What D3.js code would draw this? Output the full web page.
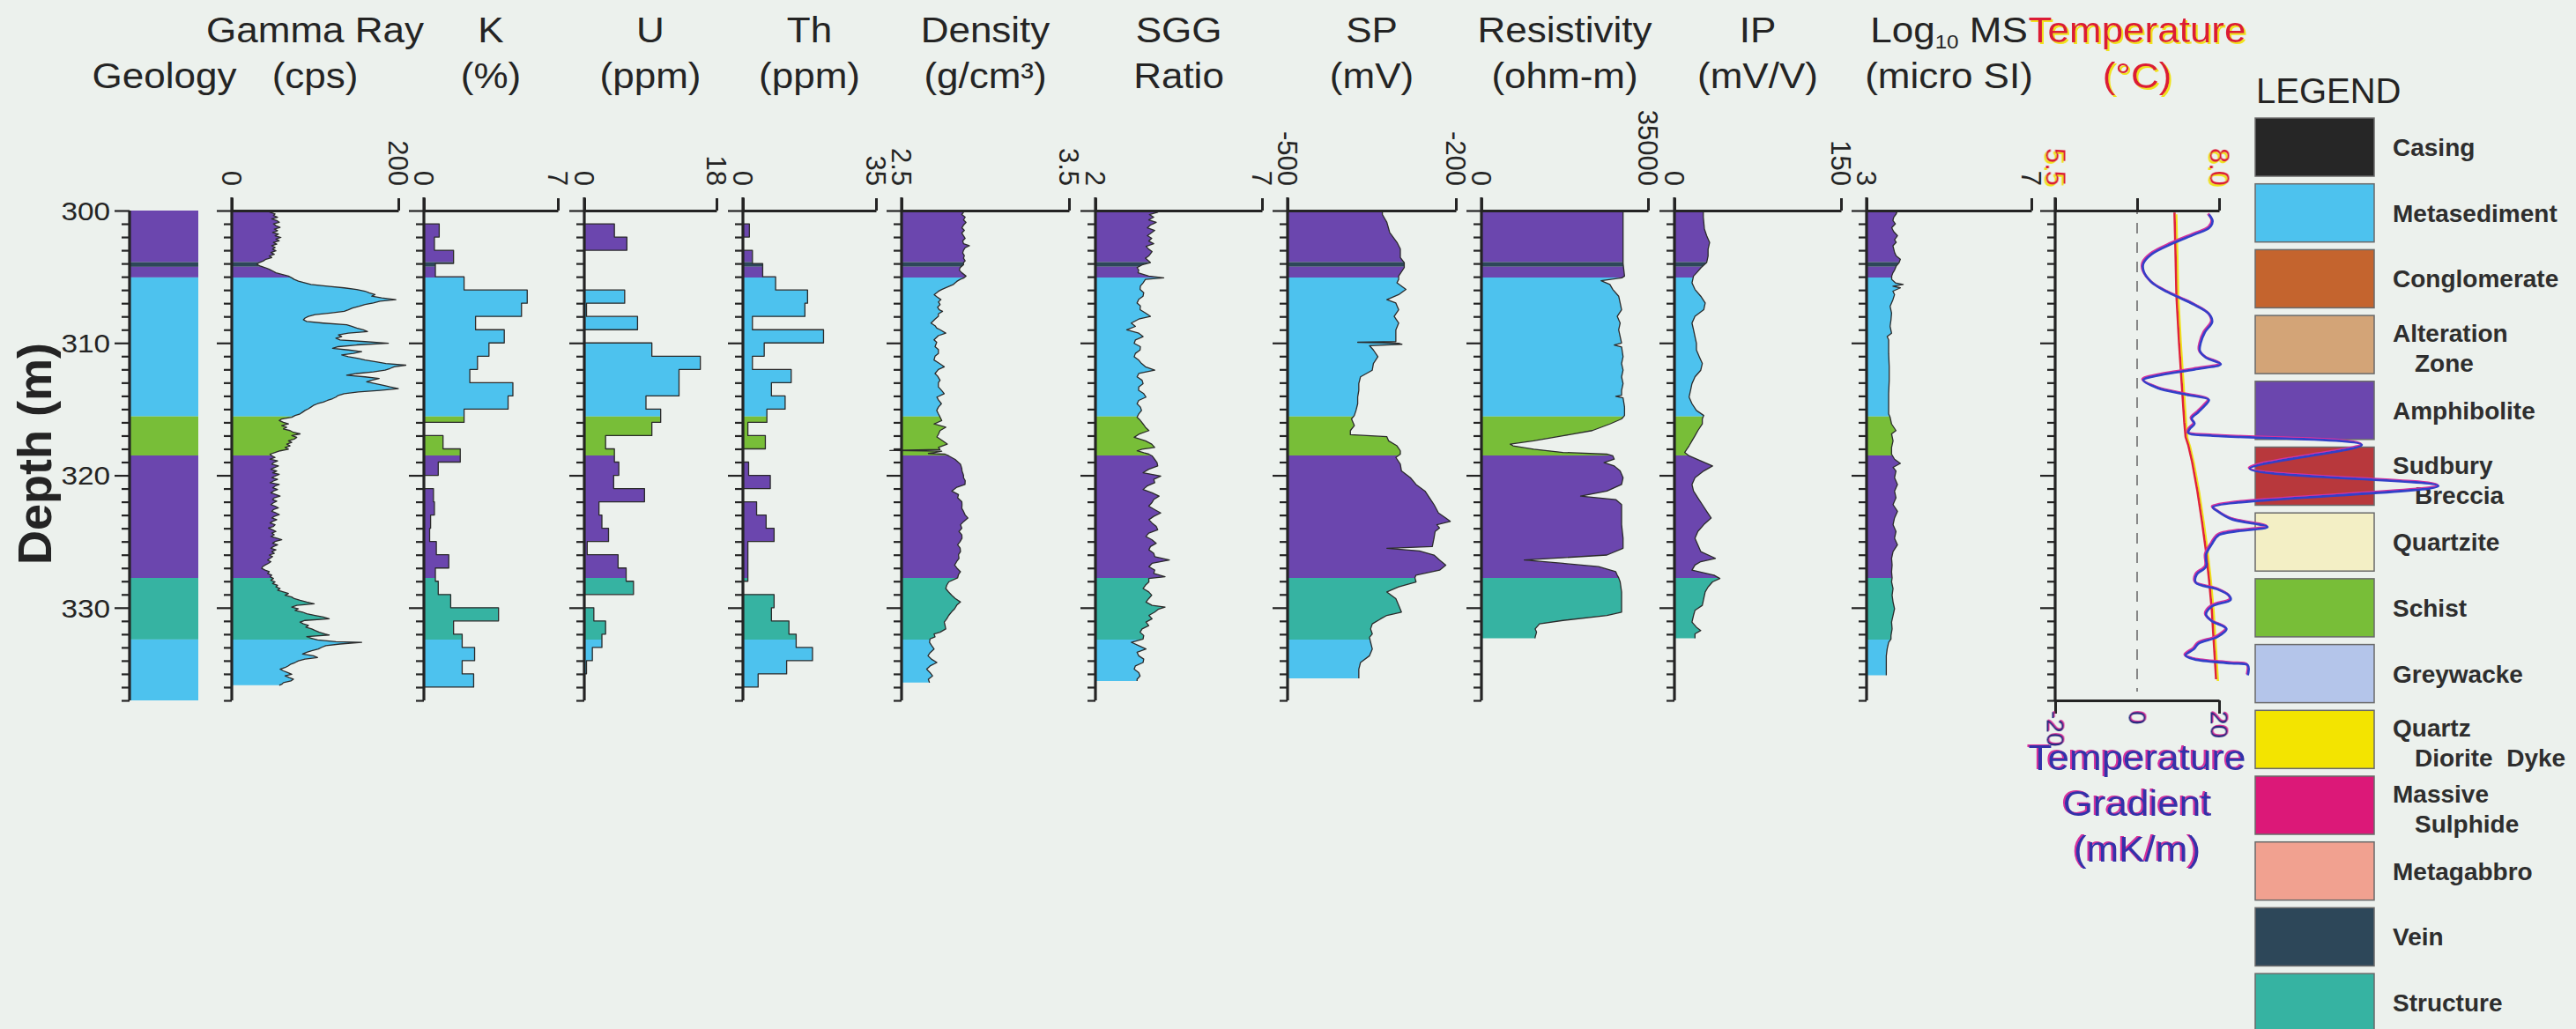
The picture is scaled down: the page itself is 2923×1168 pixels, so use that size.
<!DOCTYPE html>
<html><head><meta charset="utf-8">
<script src="https://cdn.jsdelivr.net/npm/d3@7"></script>
<style>
html,body{margin:0;padding:0;background:#ecf1ed;}
svg{display:block;font-family:"Liberation Sans",Arial,Helvetica,sans-serif;}
</style></head><body>
<svg id="chart" width="2923" height="1168"></svg>
<script>
// ================= DATA =================
const legendNames = ["Casing","Metasediment","Conglomerate","Alteration Zone","Amphibolite","Sudbury Breccia","Quartzite","Schist","Greywacke","Quartz Diorite Dyke","Massive Sulphide","Metagabbro","Vein","Structure"];
const legendLines = [["Casing"],["Metasediment"],["Conglomerate"],["Alteration","Zone"],["Amphibolite"],["Sudbury","Breccia"],["Quartzite"],["Schist"],["Greywacke"],["Quartz","Diorite  Dyke"],["Massive","Sulphide"],["Metagabbro"],["Vein"],["Structure"]];
const legendColors = ["#262626","#4dc2ee","#c4642e","#d3a477","#6b46ae","#b8383c","#f3efc5","#78be38","#b4c5ea","#f3e400","#dc1878","#f1a190","#2d4759","#36b3a2"];

// geology intervals [top, bottom, unit]
const geologyIntervals = [[300,303.9,"Amphibolite"],[303.9,304.25,"Vein"],[304.25,305.05,"Amphibolite"],[305.05,315.55,"Metasediment"],[315.55,318.5,"Schist"],[318.5,327.75,"Amphibolite"],[327.75,332.4,"Structure"],[332.4,337,"Metasediment"]];

const depthTicks = [300,301,302,303,304,305,306,307,308,309,310,311,312,313,314,315,316,317,318,319,320,321,322,323,324,325,326,327,328,329,330,331,332,333,334,335,336,337];

const trackTitles = ["Gamma Ray","K","U","Th","Density","SGG","SP","Resistivity","IP","Log10 MS","Temperature"];
const trackUnits = ["(cps)","(%)","(ppm)","(ppm)","(g/cm³)","Ratio","(mV)","(ohm-m)","(mV/V)","(micro SI)","(°C)"];
const trackDomains = [[0,200],[0,7],[0,18],[0,35],[2.5,3.5],[2,7],[-500,-200],[0,35000],[0,150],[3,7],[5.5,8.0]];
const trackTickLabels = [["0","200"],["0","7"],["0","18"],["0","35"],["2.5","3.5"],["2","7"],["-500","-200"],["0","35000"],["0","150"],["3","7"],["5.5","8.0"]];
const gradientDomain = [-20,20];
const gradientTickLabels = ["-20","0","20"];

// Gamma ray (cps) [depth, value]
const gammaRay = [[300.0,44],[300.13,46],[300.25,52],[300.38,50],[300.5,55],[300.63,48],[300.75,54],[300.89,57],[301.0,50],[301.14,53],[301.27,58],[301.4,51],[301.52,55],[301.65,49],[301.78,56],[301.9,52],[302.03,59],[302.16,53],[302.28,57],[302.41,50],[302.54,54],[302.66,48],[302.79,52],[302.92,49],[303.04,53],[303.17,47],[303.3,51],[303.43,45],[303.55,48],[303.68,41],[303.8,38],[303.93,33],[304.06,30],[304.18,34],[304.31,40],[304.43,45],[304.56,49],[304.7,53],[304.82,60],[304.95,68],[305.08,72],[305.2,75],[305.33,80],[305.46,88],[305.58,95],[305.71,115],[305.84,135],[305.96,150],[306.09,160],[306.22,165],[306.35,172],[306.47,168],[306.6,180],[306.73,197],[306.85,178],[306.98,170],[307.1,160],[307.23,153],[307.36,145],[307.49,140],[307.61,135],[307.74,118],[307.86,100],[307.99,92],[308.12,88],[308.25,86],[308.38,90],[308.5,110],[308.63,138],[308.75,144],[308.88,150],[309.01,158],[309.14,163],[309.26,140],[309.39,128],[309.52,132],[309.64,125],[309.77,130],[309.9,160],[310.03,188],[310.15,150],[310.28,128],[310.41,121],[310.53,140],[310.66,156],[310.79,146],[310.91,132],[311.04,140],[311.17,152],[311.29,160],[311.42,173],[311.55,185],[311.68,209],[311.8,195],[311.93,190],[312.06,184],[312.18,170],[312.31,150],[312.44,138],[312.56,160],[312.69,177],[312.82,168],[312.94,162],[313.07,172],[313.2,182],[313.32,190],[313.45,200],[313.58,178],[313.7,152],[313.83,135],[313.96,128],[314.09,125],[314.21,121],[314.34,115],[314.47,110],[314.59,103],[314.72,98],[314.85,95],[314.97,92],[315.1,88],[315.23,85],[315.36,82],[315.48,76],[315.61,72],[315.74,60],[315.86,57],[315.99,62],[316.12,68],[316.24,60],[316.37,66],[316.5,62],[316.62,70],[316.75,74],[316.87,82],[317.0,72],[317.13,78],[317.26,75],[317.39,68],[317.51,72],[317.64,66],[317.77,70],[317.89,64],[318.02,68],[318.15,58],[318.27,52],[318.4,46],[318.53,48],[318.65,52],[318.78,46],[318.91,55],[319.04,50],[319.16,48],[319.29,56],[319.42,51],[319.54,47],[319.67,54],[319.8,49],[319.92,57],[320.05,52],[320.18,48],[320.3,55],[320.43,50],[320.56,46],[320.69,57],[320.81,52],[320.94,49],[321.07,55],[321.19,50],[321.32,47],[321.45,53],[321.57,58],[321.7,51],[321.83,49],[321.95,54],[322.08,50],[322.21,47],[322.33,52],[322.46,56],[322.59,50],[322.72,48],[322.84,53],[322.97,57],[323.1,51],[323.22,48],[323.35,54],[323.48,49],[323.6,46],[323.73,52],[323.86,50],[323.98,44],[324.11,49],[324.24,53],[324.36,48],[324.49,51],[324.62,47],[324.75,54],[324.87,60],[325.0,52],[325.13,49],[325.25,55],[325.38,50],[325.51,47],[325.63,53],[325.76,48],[325.89,51],[326.02,45],[326.14,49],[326.27,46],[326.4,43],[326.52,47],[326.65,44],[326.78,40],[326.9,37],[327.03,36],[327.16,40],[327.28,45],[327.41,43],[327.54,48],[327.66,46],[327.79,50],[327.92,47],[328.05,52],[328.17,49],[328.3,55],[328.43,53],[328.55,58],[328.68,55],[328.81,62],[328.93,68],[329.06,64],[329.19,72],[329.31,75],[329.44,82],[329.57,90],[329.7,99],[329.82,78],[329.95,72],[330.08,80],[330.2,76],[330.33,85],[330.46,90],[330.58,100],[330.71,110],[330.84,117],[330.96,88],[331.09,82],[331.22,86],[331.34,92],[331.47,89],[331.6,96],[331.72,100],[331.85,105],[331.98,112],[332.06,117],[332.19,90],[332.31,96],[332.44,103],[332.56,125],[332.61,156],[332.74,130],[332.87,113],[332.99,108],[333.12,104],[333.25,96],[333.37,90],[333.5,85],[333.63,98],[333.76,103],[333.88,88],[334.01,80],[334.14,76],[334.26,71],[334.39,68],[334.52,64],[334.64,58],[334.77,62],[334.9,67],[335.03,72],[335.15,64],[335.28,69],[335.4,74],[335.53,71],[335.66,62],[335.78,60],[335.86,57]];

// K (%), U (ppm), Th (ppm): 1 m bins [top depth, value]
const potassium = [[301,0.8],[302,0.55],[303,1.55],[304,0.6],[305,2.1],[306,5.4],[307,5.1],[308,2.7],[309,4.2],[310,3.4],[311,2.8],[312,2.4],[313,4.65],[314,4.4],[315,2.1],[316,0],[317,1.0],[318,1.9],[319,0.75],[320,0],[321,0.5],[322,0.55],[323,0.35],[324,0.3],[325,0.65],[326,1.3],[327,0.6],[328,0.75],[329,1.4],[330,3.9],[331,1.55],[332,2.0],[333,2.65],[334,2.0],[335,2.6]];
const uranium = [[301,4.1],[302,5.8],[303,0],[304,0],[305,0],[306,5.5],[307,0.3],[308,7.25],[309,0],[310,9.2],[311,15.8],[312,12.9],[313,12.9],[314,8.4],[315,10.4],[316,9.2],[317,2.9],[318,4.1],[319,4.7],[320,4.0],[321,8.2],[322,2.0],[323,2.4],[324,3.3],[325,0.4],[326,4.6],[327,5.7],[328,6.7],[329,0],[330,1.3],[331,2.9],[332,2.4],[333,1.1],[334,0.3]];
const thorium = [[301,1.7],[302,0],[303,2.5],[304,5.2],[305,8.6],[306,17.0],[307,16.3],[308,2.5],[309,21.2],[310,5.6],[311,2.5],[312,12.7],[313,7.5],[314,11.1],[315,6.3],[316,1.3],[317,5.9],[318,0],[319,1.5],[320,7.2],[321,0],[322,3.6],[323,6.1],[324,8.2],[325,1.3],[326,1.3],[327,1.3],[328,0],[329,8.2],[330,7.5],[331,12.1],[332,14.0],[333,18.3],[334,11.5],[335,4.0]];

// Density (g/cm3)
const density = [[300.0,2.86],[300.13,2.87],[300.3,2.86],[300.5,2.88],[300.7,2.87],[300.9,2.885],[301.1,2.87],[301.3,2.86],[301.5,2.875],[301.7,2.86],[301.9,2.87],[302.1,2.88],[302.3,2.865],[302.5,2.87],[302.66,2.905],[302.8,2.88],[303.0,2.87],[303.2,2.865],[303.4,2.875],[303.6,2.87],[303.8,2.88],[303.93,2.87],[304.1,2.87],[304.3,2.85],[304.5,2.845],[304.7,2.86],[304.95,2.885],[305.1,2.87],[305.2,2.85],[305.35,2.83],[305.58,2.81],[305.8,2.77],[305.96,2.74],[306.1,2.72],[306.35,2.695],[306.5,2.71],[306.73,2.735],[306.9,2.72],[307.1,2.73],[307.3,2.715],[307.5,2.725],[307.61,2.745],[307.8,2.72],[307.99,2.72],[308.2,2.70],[308.5,2.676],[308.7,2.70],[308.88,2.71],[309.0,2.73],[309.26,2.764],[309.45,2.72],[309.77,2.694],[309.95,2.71],[310.28,2.70],[310.5,2.72],[310.79,2.72],[311.0,2.70],[311.29,2.694],[311.5,2.72],[311.8,2.755],[312.0,2.72],[312.31,2.70],[312.5,2.715],[312.82,2.73],[313.0,2.72],[313.32,2.72],[313.6,2.74],[313.83,2.755],[314.09,2.711],[314.3,2.72],[314.59,2.738],[314.85,2.72],[315.1,2.71],[315.36,2.72],[315.6,2.73],[315.86,2.74],[316.12,2.694],[316.37,2.764],[316.62,2.73],[316.9,2.72],[317.1,2.711],[317.39,2.745],[317.64,2.773],[317.89,2.72],[318.05,2.73],[318.12,2.43],[318.18,2.74],[318.27,2.70],[318.35,2.66],[318.4,2.76],[318.53,2.782],[318.8,2.82],[319.16,2.852],[319.5,2.86],[319.67,2.861],[320.0,2.87],[320.18,2.87],[320.4,2.88],[320.69,2.879],[320.9,2.83],[321.19,2.80],[321.45,2.84],[321.7,2.835],[322.0,2.86],[322.21,2.861],[322.5,2.86],[322.72,2.87],[323.0,2.88],[323.22,2.896],[323.5,2.87],[323.73,2.852],[324.0,2.86],[324.24,2.843],[324.5,2.86],[324.75,2.861],[325.0,2.85],[325.25,2.835],[325.5,2.85],[325.76,2.852],[326.0,2.84],[326.27,2.843],[326.5,2.83],[326.78,2.817],[327.0,2.83],[327.28,2.852],[327.5,2.84],[327.74,2.835],[328.05,2.782],[328.3,2.77],[328.55,2.764],[328.8,2.78],[329.06,2.80],[329.3,2.82],[329.57,2.852],[329.8,2.83],[330.08,2.817],[330.3,2.80],[330.58,2.782],[330.84,2.77],[331.09,2.755],[331.35,2.76],[331.6,2.764],[331.85,2.73],[331.98,2.694],[332.2,2.70],[332.36,2.67],[332.61,2.667],[332.87,2.68],[333.12,2.694],[333.4,2.67],[333.63,2.658],[333.9,2.68],[334.14,2.711],[334.4,2.67],[334.64,2.65],[334.9,2.67],[335.15,2.685],[335.4,2.66],[335.66,2.667]];

// SGG ratio
const sggRatio = [[300.0,3.85],[300.13,3.87],[300.3,3.62],[300.5,3.75],[300.7,3.6],[300.89,3.825],[301.1,3.65],[301.3,3.56],[301.5,3.78],[301.65,3.7],[301.9,3.56],[302.1,3.69],[302.3,3.6],[302.5,3.75],[302.7,3.52],[302.92,3.6],[303.1,3.7],[303.43,3.6],[303.6,3.5],[303.93,3.65],[304.1,3.4],[304.31,3.25],[304.5,3.3],[304.7,3.28],[304.95,3.6],[305.08,4.05],[305.2,3.5],[305.46,3.43],[305.7,3.35],[305.96,3.34],[306.2,3.45],[306.47,3.43],[306.7,3.3],[306.98,3.25],[307.2,3.35],[307.49,3.34],[307.74,3.5],[307.99,3.65],[308.2,3.3],[308.5,3.076],[308.75,3.2],[309.01,2.94],[309.26,3.3],[309.52,3.43],[309.77,3.2],[310.03,3.164],[310.28,3.35],[310.53,3.34],[310.79,3.2],[311.04,3.164],[311.3,3.3],[311.55,3.384],[311.8,3.5],[312.06,3.78],[312.31,3.3],[312.56,3.25],[312.82,3.4],[313.07,3.43],[313.32,3.3],[313.58,3.296],[313.83,3.45],[314.09,3.517],[314.34,3.3],[314.59,3.25],[314.85,3.35],[315.1,3.384],[315.36,3.3],[315.61,3.25],[315.86,3.35],[316.12,3.43],[316.37,3.5],[316.62,3.605],[316.9,3.3],[317.13,3.164],[317.39,3.5],[317.64,3.69],[317.89,3.78],[318.02,3.4],[318.15,3.25],[318.3,3.45],[318.4,3.605],[318.53,3.7],[318.8,3.78],[319.04,3.85],[319.29,3.87],[319.54,3.6],[319.8,3.43],[320.05,3.96],[320.3,3.75],[320.56,3.78],[320.81,3.55],[321.07,3.43],[321.32,3.7],[321.57,3.91],[321.83,3.75],[322.08,3.69],[322.33,3.6],[322.59,3.78],[322.84,3.96],[323.1,3.75],[323.35,3.605],[323.6,3.7],[323.86,3.825],[324.11,3.87],[324.36,3.6],[324.62,3.517],[324.87,3.7],[325.13,3.825],[325.38,3.65],[325.63,3.605],[325.89,3.75],[326.14,3.78],[326.4,4.22],[326.65,3.7],[326.9,3.605],[327.16,3.78],[327.41,3.75],[327.66,4.09],[327.79,3.6],[328.05,3.605],[328.3,3.5],[328.55,3.43],[328.81,3.6],[329.06,3.69],[329.31,3.6],[329.57,3.517],[329.82,3.7],[329.95,4.09],[330.1,3.9],[330.33,3.78],[330.58,3.605],[330.84,3.7],[331.09,3.517],[331.35,3.6],[331.6,3.4],[331.85,3.34],[332.1,3.45],[332.36,3.43],[332.61,3.076],[332.87,3.3],[333.12,3.517],[333.37,3.25],[333.63,3.3],[333.88,3.45],[334.14,3.43],[334.39,3.2],[334.64,3.164],[334.9,3.3],[335.15,3.34],[335.4,3.25],[335.53,3.25]];

// SP (mV)
const spontaneousPotential = [[300.0,-331],[300.3,-331],[300.89,-323],[301.65,-318],[302.4,-305],[302.9,-299],[303.55,-299],[303.93,-292],[304.31,-292],[304.95,-302],[305.2,-302],[305.46,-305],[305.96,-289],[306.35,-302],[306.73,-323],[306.98,-307],[307.49,-302],[307.99,-310],[308.5,-302],[309.01,-307],[309.52,-307],[309.9,-307],[309.95,-375],[310.03,-302],[310.1,-296],[310.2,-354],[310.53,-347],[311.04,-339],[311.55,-347],[312.06,-349],[312.56,-370],[313.07,-373],[313.58,-373],[314.09,-375],[314.59,-375],[315.1,-378],[315.48,-381],[315.74,-386],[316.24,-381],[316.62,-388],[316.93,-388],[317.08,-323],[317.39,-320],[317.77,-305],[318.15,-299],[318.4,-299],[318.65,-307],[319.16,-299],[319.67,-297],[320.18,-281],[320.69,-271],[321.19,-255],[321.7,-247],[322.21,-239],[322.84,-231],[323.22,-218],[323.48,-210],[323.73,-234],[323.98,-229],[324.24,-237],[324.75,-239],[325.38,-242],[325.51,-323],[325.71,-265],[326.02,-239],[326.4,-229],[326.78,-218],[327.16,-229],[327.54,-271],[327.74,-273],[328.05,-271],[328.43,-302],[328.81,-323],[329.31,-307],[329.82,-302],[330.33,-297],[330.58,-323],[330.84,-334],[331.22,-349],[331.6,-352],[331.98,-349],[332.23,-354],[332.61,-352],[333.12,-349],[333.63,-354],[334.14,-370],[334.64,-373],[335.15,-373],[335.33,-373]];

// Resistivity (ohm-m)
const resistivity = [[300.0,29760],[302.0,29760],[304.0,29760],[304.95,30070],[305.08,29500],[305.3,25140],[305.58,26990],[305.96,27610],[306.47,28840],[306.98,29150],[307.49,29450],[307.99,28530],[308.5,29150],[309.01,28840],[309.52,29150],[310.0,29450],[310.15,27910],[310.3,29450],[311.04,29760],[311.55,29450],[312.06,29760],[312.56,29450],[313.07,29760],[313.58,29450],[313.95,29450],[314.04,28220],[314.15,29760],[314.85,30070],[315.48,30070],[315.74,29450],[316.12,26990],[316.62,23290],[317.01,17130],[317.39,10970],[317.64,6040],[317.77,6650],[318.02,10970],[318.27,17130],[318.4,26370],[318.53,27610],[318.78,27910],[319.04,25760],[319.29,27910],[319.67,29150],[320.18,29760],[320.69,29450],[321.19,26370],[321.57,20830],[321.83,28220],[322.21,29450],[322.72,29450],[323.73,29450],[324.75,29760],[325.51,29760],[326.02,26370],[326.4,9000],[326.65,17130],[326.9,24600],[327.28,28220],[327.54,28530],[327.74,28840],[328.05,29150],[328.81,29450],[329.57,29450],[330.33,29450],[330.58,26370],[330.96,17130],[331.22,12200],[331.6,11280],[331.85,11580],[332.23,11280],[332.31,11280]];

// IP (mV/V)
const inducedPolarization = [[300.0,26],[300.5,26],[301.4,27],[301.9,29],[302.41,31.7],[302.92,30.3],[303.43,30.3],[303.93,29],[304.31,24],[304.7,20],[304.95,17.2],[305.46,15.8],[305.96,18.5],[306.47,23.7],[306.98,27.7],[307.49,26.4],[307.99,18.5],[308.5,15.8],[309.01,17.2],[309.52,18.5],[310.03,19.8],[310.53,19.8],[311.04,22.4],[311.55,25.1],[312.06,23.7],[312.56,18.5],[313.07,15.8],[313.58,14.5],[314.09,13.2],[314.59,15.8],[315.1,19.8],[315.48,26.4],[315.74,25.1],[316.12,25.1],[316.62,21.1],[317.01,18.5],[317.39,15.8],[317.77,13.2],[318.27,9.2],[318.53,13.2],[318.91,23.7],[319.29,34.3],[319.67,26.4],[320.18,18.5],[320.69,15.8],[321.19,17.2],[321.7,21.1],[322.21,25.1],[322.72,29],[323.22,33],[323.73,26.4],[324.24,21.1],[324.75,18.5],[325.25,21.1],[325.76,23.7],[326.27,36.9],[326.52,23.7],[326.78,18.5],[327.16,15.8],[327.54,35.6],[327.79,40.9],[328.05,34.3],[328.43,30.3],[328.81,27.7],[329.31,26.4],[329.82,25.1],[330.2,18.5],[330.58,17.2],[331.09,15.8],[331.47,19.8],[331.72,23.7],[331.98,18.5],[332.31,18.5]];

// Log10 magnetic susceptibility (micro SI)
const magSusceptibility = [[300.0,3.75],[300.25,3.72],[300.5,3.66],[300.75,3.64],[301.0,3.70],[301.3,3.61],[301.6,3.66],[301.9,3.75],[302.2,3.68],[302.4,3.72],[302.66,3.64],[302.9,3.66],[303.17,3.68],[303.43,3.72],[303.68,3.82],[303.93,3.79],[304.2,3.72],[304.5,3.68],[304.7,3.64],[304.95,3.61],[305.2,3.61],[305.46,3.70],[305.58,3.89],[305.72,3.64],[305.84,3.82],[306.09,3.64],[306.35,3.68],[306.73,3.64],[307.23,3.571],[307.74,3.607],[308.25,3.593],[308.75,3.571],[309.26,3.607],[309.52,3.50],[309.77,3.536],[310.28,3.536],[310.79,3.536],[311.8,3.55],[312.82,3.55],[313.83,3.536],[314.85,3.536],[315.36,3.536],[315.61,3.571],[316.12,3.607],[316.62,3.714],[316.87,3.607],[317.39,3.643],[317.89,3.607],[318.4,3.607],[318.78,3.679],[319.1,3.82],[319.4,3.643],[319.67,3.714],[320.18,3.679],[320.69,3.75],[321.19,3.679],[321.7,3.714],[322.21,3.643],[322.72,3.75],[323.22,3.679],[323.73,3.643],[324.24,3.714],[324.75,3.679],[325.25,3.75],[325.76,3.643],[326.27,3.607],[326.78,3.62],[327.28,3.607],[327.74,3.62],[328.05,3.607],[328.55,3.643],[329.06,3.62],[329.57,3.643],[330.08,3.679],[330.58,3.643],[331.09,3.607],[331.6,3.62],[332.1,3.593],[332.36,3.593],[332.61,3.536],[333.12,3.5],[333.63,3.479],[334.14,3.479],[334.64,3.479],[335.1,3.479]];

// Temperature (deg C)
const temperature = [[300.15,7.32],[303,7.335],[306.4,7.35],[310,7.39],[313,7.43],[316,7.47],[317.1,7.49],[317.7,7.53],[319,7.59],[321.2,7.67],[323.5,7.74],[325.7,7.80],[328,7.85],[330.2,7.89],[333,7.925],[335.4,7.955]];
// Temperature gradient (mK/m)
const temperatureGradient = [[300.3,17.5],[300.8,18.4],[301.3,17.6],[301.8,14],[302.5,8.5],[303.3,3.5],[304.0,1.5],[304.6,1.6],[305.4,3.5],[306.0,6.5],[306.6,10.5],[307.2,14.5],[307.8,17.5],[308.4,18.3],[309.2,16.5],[310.0,15.5],[310.6,15.3],[311.1,16.8],[311.6,20.4],[312.0,14],[312.4,6],[312.8,1.5],[313.4,5],[313.9,12],[314.3,17.5],[314.7,16.6],[315.2,15],[315.7,13.3],[316.1,14],[316.5,12.8],[316.8,12.5],[317.0,18],[317.7,54.8],[319.5,27.5],[320.8,73.5],[322.4,18.5],[322.7,19.6],[323.3,23],[323.9,31.8],[324.5,20],[325.2,18.2],[326.0,16.8],[326.9,16.8],[327.5,14.5],[328.1,14.3],[328.6,19.6],[329.1,22.5],[329.4,22.8],[329.9,18.2],[330.5,16.8],[331.0,18.2],[331.6,21.8],[332.2,19.6],[332.7,15],[333.1,13.9],[333.6,11.8],[333.9,14],[334.2,23],[334.35,27],[335.1,27]];

// ================= LAYOUT =================
const W = 2923, H = 1168;
const trackLeft  = [263,481,663,843,1023,1243,1461,1681,1900,2118,2332];
const trackRight = [452,633,813,994,1213,1432,1652,1870,2089,2305,2518];
const geoX0 = 148, geoX1 = 225, depthAxisX = 147;
const INK = "#242424";

const svg = d3.select("#chart");
svg.append("rect").attr("width",W).attr("height",H).attr("fill","#ecf1ed");
const defs = svg.append("defs");

function fringe(id, color, dx, dy){
  const f = defs.append("filter").attr("id",id).attr("filterUnits","userSpaceOnUse")
    .attr("x",-4000).attr("y",-4000).attr("width",12000).attr("height",12000);
  f.append("feOffset").attr("in","SourceAlpha").attr("dx",dx).attr("dy",dy).attr("result","o");
  f.append("feFlood").attr("flood-color",color).attr("result","c");
  f.append("feComposite").attr("in","c").attr("in2","o").attr("operator","in").attr("result","s");
  const m = f.append("feMerge");
  m.append("feMergeNode").attr("in","s");
  m.append("feMergeNode").attr("in","SourceGraphic");
}
fringe("fy","#f0e21a",2,2);
fringe("fm","#d8309a",-1.5,-1.5);

const y = d3.scaleLinear().domain([300,337]).range([239,795]);
const colorOf = d3.scaleOrdinal().domain(legendNames).range(legendColors);

geologyIntervals.forEach((g,i)=>{
  defs.append("clipPath").attr("id","geo"+i).append("rect")
    .attr("x",0).attr("width",W).attr("y",y(g[0])).attr("height",y(g[1])-y(g[0]));
});

// ---------- geology column ----------
svg.append("g").selectAll("rect").data(geologyIntervals).join("rect")
  .attr("x",geoX0).attr("width",geoX1-geoX0)
  .attr("y",d=>y(d[0])).attr("height",d=>y(d[1])-y(d[0]))
  .attr("fill",d=>colorOf(d[2]));

// ---------- fills ----------
function drawFilled(data, xs, base){
  const area = d3.area().y(d=>y(d[0])).x0(xs(base)).x1(d=>xs(d[1]));
  const g = svg.append("g");
  geologyIntervals.forEach((iv,i)=>{
    g.append("path").datum(data).attr("clip-path",`url(#geo${i})`)
      .attr("d",area).attr("fill",colorOf(iv[2]));
  });
  const line = d3.line().y(d=>y(d[0])).x(d=>xs(d[1]));
  g.append("path").datum(data).attr("d",line).attr("fill","none")
    .attr("stroke","#2b2b2b").attr("stroke-width",1.3).attr("stroke-linejoin","round");
}
function stepPoints(bins){
  const pts = [[bins[0][0],0]];
  bins.forEach(([d,v])=>{ pts.push([d,v]); pts.push([d+1,v]); });
  pts.push([bins[bins.length-1][0]+1,0]);
  return pts;
}

const seriesByTrack = [gammaRay, stepPoints(potassium), stepPoints(uranium), stepPoints(thorium), density, sggRatio, spontaneousPotential, resistivity, inducedPolarization, magSusceptibility];
const xScales = trackDomains.map((dom,i)=>d3.scaleLinear().domain(dom).range([trackLeft[i],trackRight[i]]));
seriesByTrack.forEach((data,i)=>drawFilled(data, xScales[i], trackDomains[i][0]));

// ---------- temperature track ----------
const tx = xScales[10];
const gx = d3.scaleLinear().domain(gradientDomain).range([trackLeft[10],trackRight[10]]);
svg.append("line").attr("x1",gx(0)).attr("x2",gx(0)).attr("y1",231).attr("y2",785)
  .attr("stroke","#6d6d6d").attr("stroke-width",1.6).attr("stroke-dasharray","12,10");
svg.append("path").datum(temperature)
  .attr("d",d3.line().y(d=>y(d[0])).x(d=>tx(d[1])))
  .attr("fill","none").attr("stroke","#e0203a").attr("stroke-width",2.6).attr("filter","url(#fy)");

// ---------- depth axes ----------
function depthAxis(x0, labelled){
  const ax = d3.axisLeft(y).tickValues(depthTicks).tickSize(9).tickSizeOuter(0)
    .tickFormat(d => (labelled && d%10===0 && d<337) ? String(d) : "");
  const g = svg.append("g").attr("transform",`translate(${x0},0)`).call(ax);
  g.select(".domain").remove();
  g.append("line").attr("x1",0).attr("x2",0).attr("y1",labelled?y(300):224).attr("y2",y(337))
    .attr("stroke",INK).attr("stroke-width",3.2);
  g.selectAll(".tick line").attr("stroke",INK).attr("stroke-width",2.2)
    .attr("x2", d => d%10===0 ? -17 : -9);
  g.selectAll(".tick text").attr("x",-19).attr("dy","0.36em")
    .attr("transform","scale(1.15,1)")
    .attr("font-size",29).attr("fill",INK).attr("font-family","Liberation Sans, Arial, sans-serif");
  return g;
}
depthAxis(depthAxisX, true);
trackLeft.forEach(x0=>depthAxis(x0,false));

// ---------- top scale axes ----------
trackDomains.forEach((dom,i)=>{
  const vals = i===10 ? [dom[0],(dom[0]+dom[1])/2,dom[1]] : dom;
  const labs = i===10 ? [trackTickLabels[i][0],"",trackTickLabels[i][1]] : trackTickLabels[i];
  const ax = d3.axisTop(xScales[i]).tickValues(vals).tickSize(14).tickSizeOuter(0)
    .tickFormat((d,k)=>labs[k]);
  const g = svg.append("g").attr("transform",`translate(0,${y(300)})`).call(ax);
  g.select(".domain").attr("stroke",INK).attr("stroke-width",3.2);
  g.selectAll(".tick line").attr("stroke",INK).attr("stroke-width",3);
  g.selectAll(".tick text").attr("x",0).attr("y",0).attr("dy","0.36em")
    .attr("transform","translate(0,-28) rotate(90)").attr("text-anchor","end")
    .attr("font-size",31).attr("font-family","Liberation Sans, Arial, sans-serif")
    .attr("fill", i===10 ? "#dc1e36" : INK)
    .attr("filter", i===10 ? "url(#fy)" : null);
});

// ---------- bottom gradient axis ----------
{
  const ax = d3.axisBottom(gx).tickValues([-20,0,20]).tickSize(15).tickSizeOuter(0)
    .tickFormat((d,k)=>gradientTickLabels[k]);
  const g = svg.append("g").attr("transform",`translate(0,${y(337)})`).call(ax);
  g.select(".domain").attr("stroke",INK).attr("stroke-width",3.2);
  g.selectAll(".tick line").attr("stroke",INK).attr("stroke-width",3)
    .attr("opacity",d=>d===0?0:1);
  g.selectAll(".tick text").attr("x",0).attr("y",0).attr("dy","0.36em")
    .attr("transform","translate(0,12) rotate(90)").attr("text-anchor","start")
    .attr("font-size",28).attr("font-family","Liberation Sans, Arial, sans-serif")
    .attr("fill","#2a2a80").attr("filter","url(#fm)");
}

// gradient curve (drawn on top, it overruns into the legend)
function drawGradient(){
  svg.append("path").datum(temperatureGradient)
    .attr("d",d3.line().y(d=>y(d[0])).x(d=>gx(d[1])).curve(d3.curveCatmullRom.alpha(0.5)))
    .attr("fill","none").attr("stroke","#3040c8").attr("stroke-width",2.8).attr("filter","url(#fm)");
}

// ---------- titles ----------
const TITLE_SIZE = 40, SX = 1.1;
function title(str, cx, base, fill, filt){
  return svg.append("text").attr("transform",`translate(${cx},${base}) scale(${SX},1)`)
    .attr("text-anchor","middle").attr("font-size",TITLE_SIZE).attr("fill",fill||INK)
    .attr("filter",filt||null).text(str);
}
const L1 = 48, L2 = 100;
trackTitles.forEach((t,i)=>{
  const cx = (trackLeft[i]+trackRight[i])/2;
  const red = i===10;
  if (t === "Log10 MS"){
    const el = svg.append("text").attr("transform",`translate(${cx},${L1}) scale(${SX},1)`)
      .attr("text-anchor","middle").attr("font-size",TITLE_SIZE).attr("fill",INK);
    el.append("tspan").text("Log");
    el.append("tspan").attr("font-size",22).attr("dy",7).text("10");
    el.append("tspan").attr("dy",-7).text(" MS");
  } else {
    title(t, cx, L1, red?"#dc1e36":INK, red?"url(#fy)":null);
  }
  title(trackUnits[i], cx, L2, red?"#dc1e36":INK, red?"url(#fy)":null);
});
title("Geology", (geoX0+geoX1)/2, L2);

// Depth label
svg.append("text").attr("transform",`translate(58,515) rotate(-90)`)
  .attr("text-anchor","middle").attr("font-size",54).attr("font-weight","bold").attr("fill",INK)
  .text("Depth (m)");

// Gradient axis title
["Temperature","Gradient","(mK/m)"].forEach((s,k)=>{
  title(s, (trackLeft[10]+trackRight[10])/2, 874 + k*52, "#3232aa", "url(#fm)");
});

// ---------- legend ----------
svg.append("text").attr("x",2560).attr("y",117).attr("font-size",40).attr("fill",INK).text("LEGEND");
const LBX = 2559, LBW = 135, LBY = 134, LPITCH = 74.7, LBH = 66;
const lg = svg.append("g");
legendNames.forEach((n,i)=>{
  const by = LBY + i*LPITCH;
  lg.append("rect").attr("x",LBX).attr("y",by).attr("width",LBW).attr("height",LBH)
    .attr("fill",colorOf(n)).attr("stroke","#6a6a6a").attr("stroke-width",1.5);
  const lines = legendLines[i];
  const cy = by + LBH/2;
  if (lines.length===1){
    lg.append("text").attr("x",2715).attr("y",cy+10).attr("font-size",28).attr("font-weight","bold")
      .attr("fill","#2e2e2e").text(lines[0]);
  } else {
    lg.append("text").attr("x",2715).attr("y",cy-3).attr("font-size",28).attr("font-weight","bold")
      .attr("fill","#2e2e2e").text(lines[0]);
    lg.append("text").attr("x",2740).attr("y",cy+31).attr("font-size",28).attr("font-weight","bold")
      .attr("fill","#2e2e2e").attr("xml:space","preserve").text(lines[1]);
  }
});
drawGradient();
</script>
</body></html>
